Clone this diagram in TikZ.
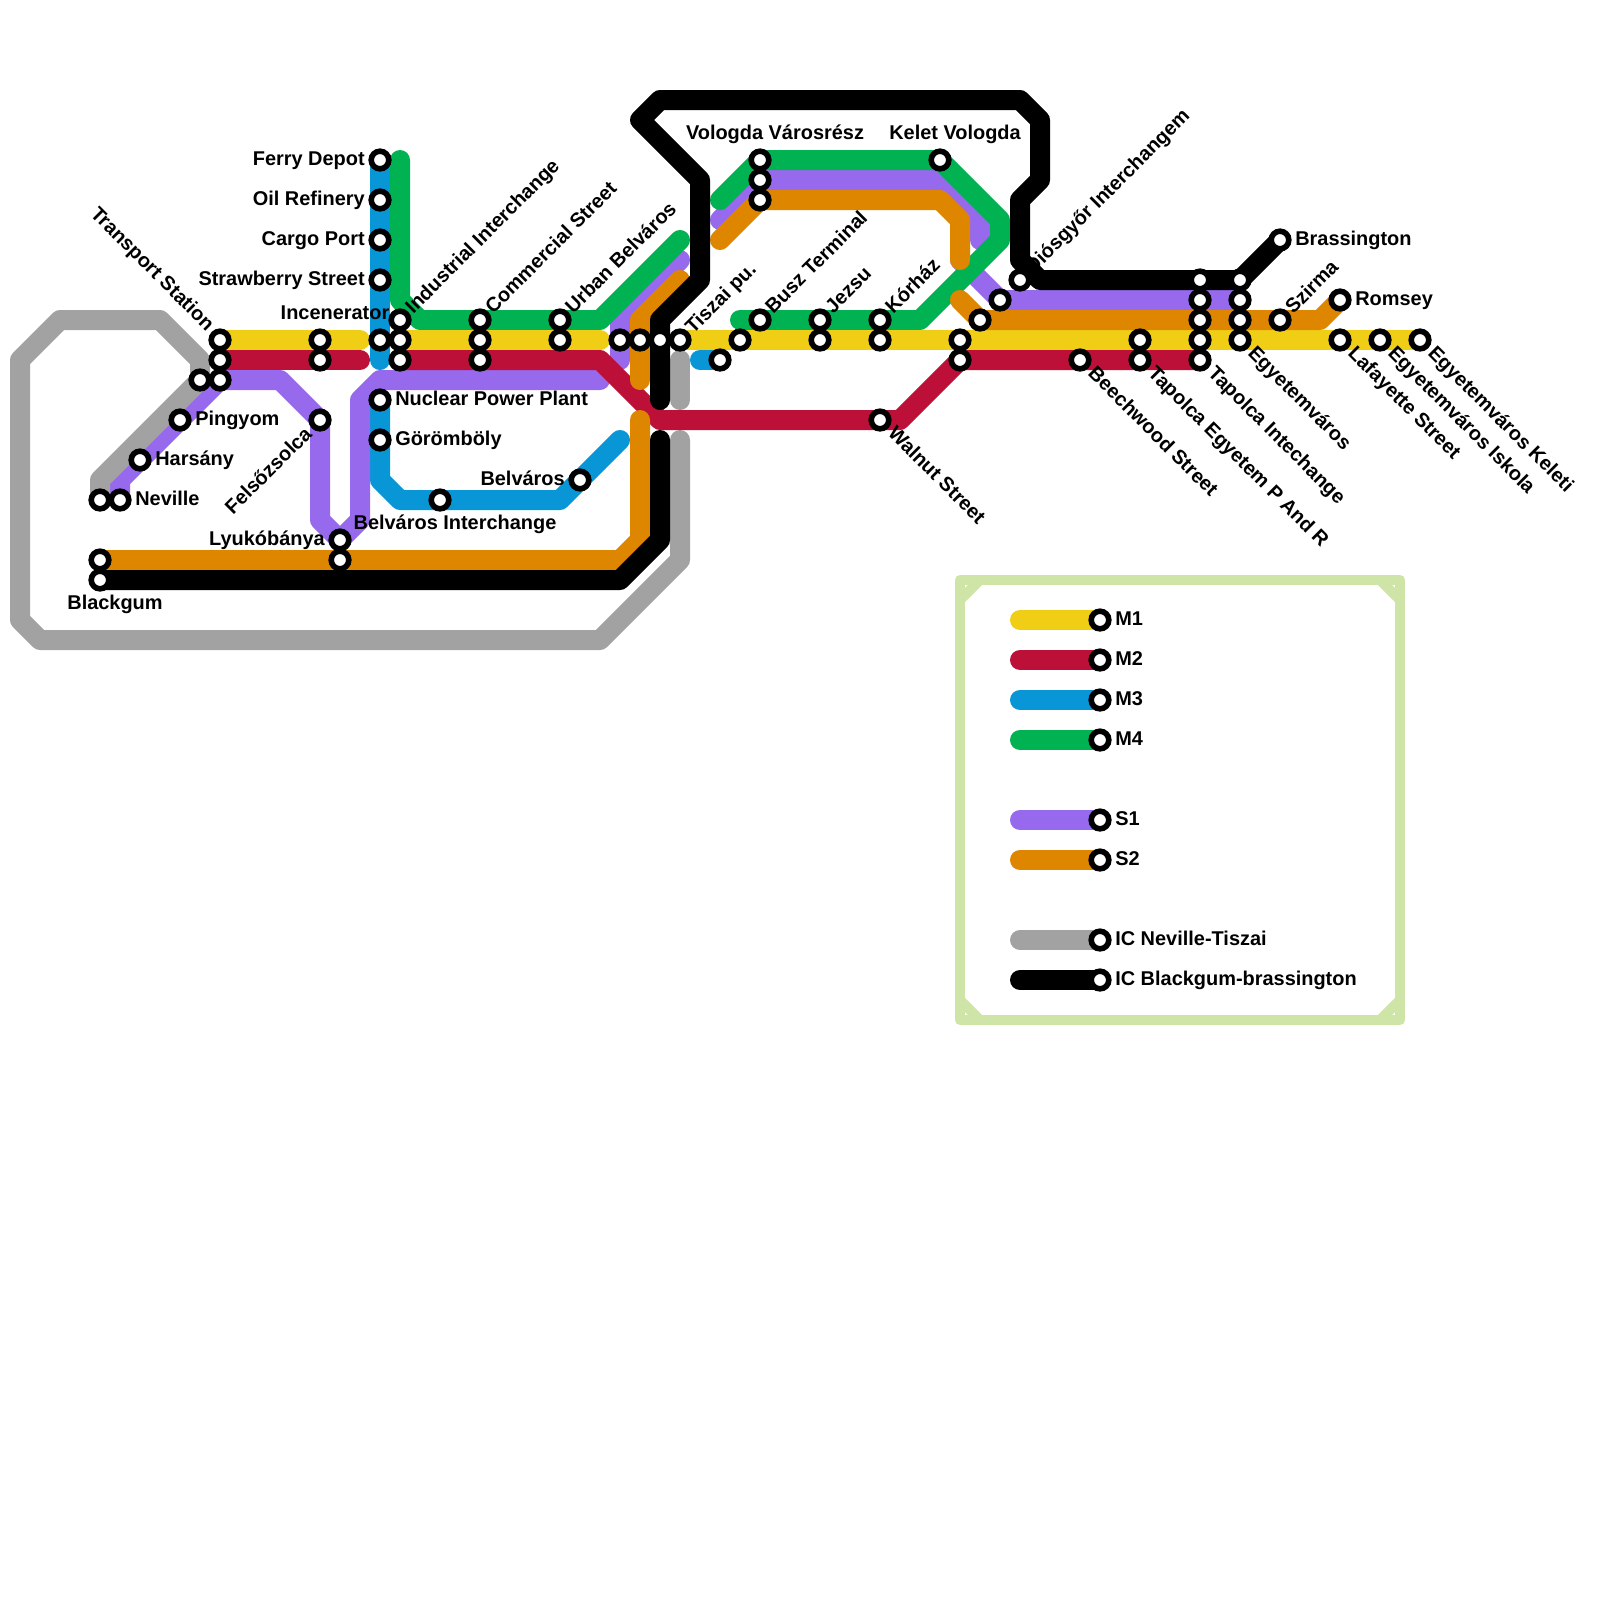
\documentclass[tikz,border=0pt]{standalone}
\usepackage{fontspec}
\setmainfont{Liberation Sans}
\pgfdeclarelayer{lines}
\pgfsetlayers{lines,main}
\definecolor{cY}{HTML}{F0CE15}
\definecolor{cR}{HTML}{BD1038}
\definecolor{cB}{HTML}{0896D7}
\definecolor{cG}{HTML}{00B251}
\definecolor{cP}{HTML}{9769EC}
\definecolor{cO}{HTML}{DF8600}
\definecolor{cS}{HTML}{A2A2A2}
\definecolor{cF}{HTML}{CFE4A7}
\tikzset{
  ln/.style={line width=0.5cm,line cap=round,line join=round},
  st/.style={circle,draw=black,fill=white,line width=0.14cm,minimum size=0.44cm,inner sep=0pt},
  lbl/.style={inner sep=0pt,text=black,font=\bfseries\fontsize{14.18}{17}\selectfont,text height=0.35cm,text depth=0.1cm},
  lr/.style={lbl,anchor=west,xshift=0.375cm},
  ll/.style={lbl,anchor=east,xshift=-0.375cm},
  lur/.style={lbl,anchor=west,xshift=0.24cm,yshift=0.22cm,rotate=45},
  ldr/.style={lbl,anchor=west,xshift=0.26cm,yshift=-0.27cm,rotate=-45},
  lul/.style={lbl,anchor=east,xshift=-0.25cm,yshift=0.29cm,rotate=-45},
  ldl/.style={lbl,anchor=east,xshift=-0.26cm,yshift=-0.29cm,rotate=45},
  frm/.style={draw=cF,line width=0.25cm,line cap=round,line join=round}
}
\begin{document}
\begin{tikzpicture}[x=0.5cm,y=-0.5cm]
\useasboundingbox (0,0) rectangle (80,80);
% stations
\foreach \n/\x/\y in {transport/11/17,tred/11/18,tpur/11/19,tgray/10/19,pingyom/9/21,harsany/7/23,neville/6/25,nevgray/5/25,
 felso/16/21,sA/16/17,sB/16/18,lyuko/17/27,lyukoB/17/28,blackO/5/28,blackgum/5/29,
 ferry/19/8,oil/19/10,cargo/19/12,straw/19/14,incen/19/17,nuclear/19/20,gorom/19/22,belint/22/25,belvaros/29/24,
 indG/20/16,indY/20/17,indR/20/18,comG/24/16,comY/24/17,comR/24/18,urbG/28/16,urbY/28/17,
 tisP/31/17,tisO/32/17,tisK/33/17,tisS/34/17,tisB/36/18,tisY/37/17,
 busz/38/16,volG/38/8,volP/38/9,volO/38/10,kelet/47/8,jezG/41/16,jezY/41/17,korG/44/16,korY/44/17,walnut/44/21,
 eY/48/17,eR/48/18,eO/49/16,eP/50/15,dios/51/14,beech/54/18,tapY/57/17,tapR/57/18,
 iK/60/14,iP/60/15,iO/60/16,iY/60/17,iR/60/18,uK/62/14,uP/62/15,uO/62/16,uY/62/17,
 szirma/64/16,brass/64/12,romsey/67/15,lafay/67/17,isk/69/17,keleti/71/17}
 {\node[st] (\n) at (\x,\y) {};}
\foreach \n/\y in {legA/31,legB/33,legC/35,legD/37,legE/41,legF/43,legG/47,legH/49}
 {\node[st] (\n) at (55,\y) {};}
% labels
\node[lr] (lPing) at (pingyom.center) {Pingyom};
\node[lr] (lHars) at (harsany.center) {Harsány};
\node[lr] (lNev) at (neville.center) {Neville};
\node[lr] (lNuc) at (nuclear.center) {Nuclear Power Plant};
\node[lr] (lGor) at (gorom.center) {Görömböly};
\node[lr] (lBra) at (brass.center) {Brassington};
\node[lr] (lRom) at (romsey.center) {Romsey};
\node[ll] (lFer) at (ferry.center) {Ferry Depot};
\node[ll] (lOil) at (oil.center) {Oil Refinery};
\node[ll] (lCar) at (cargo.center) {Cargo Port};
\node[ll] (lStr) at (straw.center) {Strawberry Street};
\node[ll] (lLyu) at (lyuko.center) {Lyukóbánya};
\node[ll] (lBel) at (belvaros.center) {Belváros};
\node[lbl] (lInc) at (16.75,15.7) {Incenerator};
\node[lbl] (lBlk) at (5.75,30.2) {Blackgum};
\node[lbl] (lVol) at (38.75,6.7) {Vologda Városrész};
\node[lbl] (lKel) at (47.75,6.7) {Kelet Vologda};
\node[lbl] (lBin) at (22.75,26.2) {Belváros Interchange};
\node[lul] (lTra) at (transport.center) {Transport Station};
\node[ldl] (lFel) at (felso.center) {Felsőzsolca};
\node[lur] (lInd) at (indG.center) {Industrial Interchange};
\node[lur] (lCom) at (comG.center) {Commercial Street};
\node[lur] (lUrb) at (urbG.center) {Urban Belváros};
\node[lur] (lTis) at (tisS.center) {Tiszai pu.};
\node[lur] (lBus) at (busz.center) {Busz Terminal};
\node[lur] (lJez) at (jezG.center) {Jezsu};
\node[lur] (lKor) at (korG.center) {Kórház};
\node[lur] (lDio) at (dios.center) {Diósgyőr Interchangem};
\node[lur] (lSzi) at (szirma.center) {Szirma};
\node[ldr] (lWal) at (walnut.center) {Walnut Street};
\node[ldr] (lBee) at (beech.center) {Beechwood Street};
\node[ldr] (lTap) at (tapR.center) {Tapolca Egyetem P And R};
\node[ldr] (lTai) at (iR.center) {Tapolca Intechange};
\node[ldr] (lEgy) at (uY.center) {Egyetemváros};
\node[ldr] (lLaf) at (lafay.center) {Lafayette Street};
\node[ldr] (lIsk) at (isk.center) {Egyetemváros Iskola};
\node[ldr] (lKeleti) at (keleti.center) {Egyetemváros Keleti};
\foreach \s/\t in {legA/M1,legB/M2,legC/M3,legD/M4,legE/S1,legF/S2,legG/IC Neville-Tiszai,legH/IC Blackgum-brassington}
 {\node[lr] (t\s) at (\s.center) {\t};}
% bends and free ends
\foreach \n/\x/\y in {
 yE/18/17,yF/30/17,
 rA/18/18,rB/30/18,rC/33/21,rD/45/21,
 bA/19/18,bB/19/24,bC/20/25,bD/28/25,bE/31/22,bF/35/18,
 gA/20/8,gB/20/15,gC/21/16,gD/30/16,gE/34/12,gF/36/10,gG/47/8,gH/50/11,gI/50/12,gJ/46/16,gK/37/16,
 pA/6/24,pB/14/19,pC/16/26,pD/18/26,pE/18/20,pF/19/19,pG/30/19,pH/34/13,pI/31/16,pJ/31/18,
 pK/36/11,pL/47/9,pM/49/11,pN/49/12,pO/48/13,
 oA/31/28,oB/32/27,oC/32/21,oD/34/14,oE/32/16,oF/32/19,oG/36/12,oH/47/10,oI/48/11,oJ/48/13,oK/48/15,oL/66/16,
 kA/31/29,kB/33/27,kC/33/22,kD/33/16,kE/35/14,kF/35/9,kG/32/6,kH/33/5,kI/51/5,kJ/52/6,kK/52/9,kL/51/10,kM/51/13,kN/52/14,kO/33/20,
 sC/34/18,sD/34/20,sE/34/22,sF/34/28,sG/30/32,sH/2/32,sI/1/31,sJ/1/18,sK/3/16,sL/8/16,sM/10/18,sN/5/24,
 fA/48/29,fB/70/29,fC/70/51,fD/48/51}
 {\coordinate (\n) at (\x,\y);}
\foreach \n/\y in {legA/31,legB/33,legC/35,legD/37,legE/41,legF/43,legG/47,legH/49}
 {\coordinate (\n s) at (51,\y);}
\begin{pgfonlayer}{lines}
% legend frame
\draw[frm] (fA) -- (fB) -- (fC) -- (fD) -- cycle;
\draw[frm] ([yshift=-0.5cm]fA) -- ([xshift=0.5cm]fA);
\draw[frm] ([xshift=-0.5cm]fB) -- ([yshift=-0.5cm]fB);
\draw[frm] ([yshift=0.5cm]fC) -- ([xshift=-0.5cm]fC);
\draw[frm] ([xshift=0.5cm]fD) -- ([yshift=0.5cm]fD);
% legend lines
\draw[ln,cY] (legAs) -- (legA.center);
\draw[ln,cR] (legBs) -- (legB.center);
\draw[ln,cB] (legCs) -- (legC.center);
\draw[ln,cG] (legDs) -- (legD.center);
\draw[ln,cP] (legEs) -- (legE.center);
\draw[ln,cO] (legFs) -- (legF.center);
\draw[ln,cS] (legGs) -- (legG.center);
\draw[ln,black] (legHs) -- (legH.center);
% M3
\draw[ln,cB] (ferry.center) -- (bA);
\draw[ln,cB] (nuclear.center) -- (bB) -- (bC) -- (bD) -- (bE);
\draw[ln,cB] (bF) -- (tisB.center);
% S1
\draw[ln,cP] (neville.center) -- (pA) -- (tpur.center) -- (pB) -- (felso.center) -- (pC) -- (lyuko.center) -- (pD) -- (pE) -- (pF) -- (pG);
\draw[ln,cP] (pH) -- (pI) -- (pJ);
\draw[ln,cP] (pK) -- (volP.center) -- (pL) -- (pM) -- (pN);
\draw[ln,cP] (pO) -- (eP.center) -- (uP.center);
% IC Neville-Tiszai
\draw[ln,cS] (sC) -- (sD);
\draw[ln,cS] (sE) -- (sF) -- (sG) -- (sH) -- (sI) -- (sJ) -- (sK) -- (sL) -- (sM) -- (tgray.center) -- (sN) -- (nevgray.center);
% M4
\draw[ln,cG] (gA) -- (gB) -- (gC) -- (gD) -- (gE);
\draw[ln,cG] (gF) -- (volG.center) -- (gG) -- (gH) -- (gI) -- (gJ) -- (gK);
% M1
\draw[ln,cY] (transport.center) -- (yE);
\draw[ln,cY] (indY.center) -- (yF);
\draw[ln,cY] (tisS.center) -- (keleti.center);
% M2
\draw[ln,cR] (tred.center) -- (rA);
\draw[ln,cR] (indR.center) -- (rB) -- (rC) -- (rD) -- (eR.center) -- (iR.center);
% S2
\draw[ln,cO] (blackO.center) -- (oA) -- (oB) -- (oC);
\draw[ln,cO] (oD) -- (oE) -- (oF);
\draw[ln,cO] (oG) -- (volO.center) -- (oH) -- (oI) -- (oJ);
\draw[ln,cO] (oK) -- (eO.center) -- (oL) -- (romsey.center);
% IC Blackgum-Brassington
\draw[ln,black] (blackgum.center) -- (kA) -- (kB) -- (kC);
\draw[ln,black] (kO) -- (kD) -- (kE) -- (kF) -- (kG) -- (kH) -- (kI) -- (kJ) -- (kK) -- (kL) -- (kM) -- (kN) -- (uK.center) -- (brass.center);
\end{pgfonlayer}
\end{tikzpicture}
\end{document}
